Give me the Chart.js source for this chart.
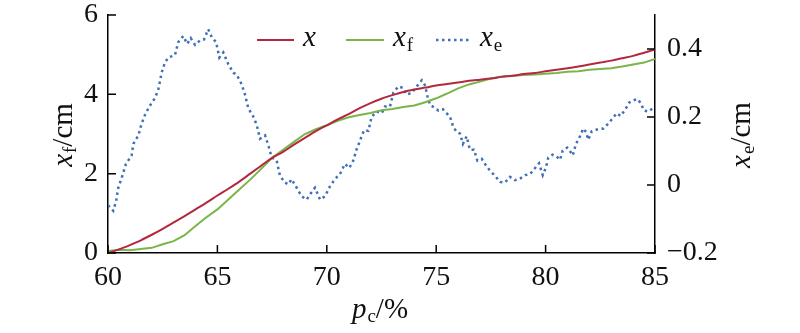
<!DOCTYPE html>
<html>
<head>
<meta charset="utf-8">
<script src="https://cdn.jsdelivr.net/npm/chart.js@4.4.1/dist/chart.umd.min.js"></script>
<style>
  body { margin: 0; background: #fff; }
  #wrap { width: 800px; height: 333px; }
</style>
</head>
<body>
<div id="wrap"><canvas id="chart"></canvas></div>
<script>
// x (red) and x_f (green), left axis (cm)
const pcLines = [60, 60.5, 61, 61.5, 62, 62.5, 63, 63.5, 64, 64.5, 65, 65.5, 66, 66.5, 67, 67.5, 68, 68.5, 69, 69.5, 70, 70.5, 71, 71.5, 72, 72.5, 73, 73.5, 74, 74.5, 75, 75.5, 76, 76.5, 77, 77.5, 78, 78.5, 79, 79.5, 80, 80.5, 81, 81.5, 82, 82.5, 83, 83.5, 84, 84.5, 85];
const xValues = [0, 0.09, 0.2, 0.32, 0.46, 0.61, 0.77, 0.93, 1.1, 1.27, 1.45, 1.62, 1.8, 2.0, 2.2, 2.4, 2.55, 2.73, 2.9, 3.07, 3.22, 3.37, 3.5, 3.65, 3.78, 3.89, 3.98, 4.06, 4.12, 4.17, 4.22, 4.26, 4.3, 4.34, 4.37, 4.4, 4.44, 4.47, 4.51, 4.54, 4.58, 4.62, 4.66, 4.7, 4.75, 4.8, 4.85, 4.91, 4.97, 5.05, 5.13];
const xfValues = [0.05, 0.08, 0.07, 0.1, 0.13, 0.22, 0.3, 0.45, 0.68, 0.9, 1.1, 1.35, 1.6, 1.85, 2.12, 2.4, 2.6, 2.8, 3.0, 3.12, 3.22, 3.33, 3.42, 3.48, 3.53, 3.6, 3.63, 3.68, 3.72, 3.8, 3.9, 4.02, 4.15, 4.25, 4.32, 4.4, 4.45, 4.47, 4.49, 4.5, 4.52, 4.54, 4.57, 4.58, 4.62, 4.64, 4.66, 4.7, 4.75, 4.8, 4.89];

// x_e (blue dotted), right axis (cm)
const pcXe = [60, 60.24, 60.37, 60.47, 60.63, 60.82, 61.08, 61.16, 61.39, 61.54, 61.69, 61.89, 62.15, 62.3, 62.45, 62.6, 62.76, 63.06, 63.21, 63.44, 63.62, 63.78, 63.98, 64.2, 64.39, 64.58, 64.74, 64.94, 65.09, 65.27, 65.5, 65.73, 65.88, 66.11, 66.26, 66.41, 66.64, 66.8, 66.95, 67.18, 67.33, 67.48, 67.71, 67.86, 68.09, 68.24, 68.39, 68.62, 68.85, 69.08, 69.23, 69.46, 69.69, 69.92, 70.15, 70.37, 70.6, 70.83, 71.03, 71.21, 71.37, 71.52, 71.7, 71.9, 72.05, 72.28, 72.51, 72.66, 72.89, 73.04, 73.27, 73.47, 73.65, 73.88, 74.11, 74.34, 74.49, 74.6, 74.72, 74.95, 75.1, 75.3, 75.48, 75.63, 75.78, 75.94, 76.09, 76.22, 76.39, 76.54, 76.73, 76.88, 77.08, 77.28, 77.46, 77.69, 77.92, 78.14, 78.37, 78.6, 78.83, 79.06, 79.29, 79.52, 79.7, 79.87, 80.02, 80.12, 80.32, 80.5, 80.66, 80.78, 80.99, 81.11, 81.24, 81.39, 81.57, 81.72, 81.85, 81.95, 82.11, 82.34, 82.64, 82.87, 83.1, 83.25, 83.43, 83.63, 83.83, 84.01, 84.19, 84.35, 84.5, 84.7, 84.95];
const xeValues = [-0.06, -0.076, -0.048, -0.008, 0.022, 0.062, 0.087, 0.121, 0.146, 0.181, 0.206, 0.231, 0.256, 0.281, 0.33, 0.36, 0.375, 0.382, 0.42, 0.438, 0.415, 0.432, 0.412, 0.425, 0.428, 0.458, 0.435, 0.42, 0.375, 0.39, 0.355, 0.33, 0.325, 0.296, 0.266, 0.226, 0.201, 0.176, 0.136, 0.146, 0.116, 0.081, 0.072, 0.027, 0.007, 0.002, 0.017, -0.008, -0.033, -0.043, -0.028, -0.008, -0.043, -0.033, -0.003, 0.017, 0.032, 0.062, 0.05, 0.072, 0.106, 0.131, 0.161, 0.159, 0.201, 0.216, 0.211, 0.231, 0.231, 0.271, 0.29, 0.286, 0.266, 0.271, 0.29, 0.308, 0.293, 0.261, 0.236, 0.226, 0.219, 0.223, 0.211, 0.201, 0.171, 0.156, 0.151, 0.121, 0.143, 0.104, 0.104, 0.072, 0.077, 0.057, 0.042, 0.027, 0.009, 0.007, 0.024, 0.014, 0.019, 0.029, 0.032, 0.05, 0.064, 0.029, 0.052, 0.08, 0.089, 0.084, 0.074, 0.101, 0.11, 0.1, 0.087, 0.121, 0.143, 0.166, 0.156, 0.133, 0.158, 0.163, 0.166, 0.181, 0.199, 0.211, 0.203, 0.221, 0.243, 0.249, 0.253, 0.241, 0.219, 0.216, 0.228];

const xTicks = [60, 65, 70, 75, 80, 85];
const leftTicks = [0, 2, 4, 6];
const rightTicks = [-0.2, -0.1, 0, 0.1, 0.2, 0.3, 0.4, 0.5];

const RED = '#b3283f';
const GREEN = '#79b548';
const BLUE = '#3f6fb5';
const SERIF = '"Liberation Serif", "Times New Roman", serif';

function pts(xs, ys) {
  return xs.map((x, i) => ({x: x, y: ys[i]}));
}

// draws text pieces one after another, centred on (cx, cy)
function richText(ctx, parts, cx, cy) {
  let w = 0;
  parts.forEach(p => { ctx.font = p.font; w += ctx.measureText(p.text).width + (p.gap || 0); });
  let x = cx - w / 2;
  ctx.textBaseline = 'middle';
  ctx.textAlign = 'left';
  parts.forEach(p => {
    ctx.font = p.font;
    ctx.fillText(p.text, x, cy + (p.dy || 0));
    x += ctx.measureText(p.text).width + (p.gap || 0);
  });
}

const it = 'italic 29px ' + SERIF;
const rm = '29px ' + SERIF;
const sub = '19px ' + SERIF;

const extras = {
  id: 'extras',
  afterDraw(chart) {
    const ctx = chart.ctx;
    const a = chart.chartArea;
    const sx = chart.scales.x, yl = chart.scales.y, yr = chart.scales.y1;
    ctx.save();
    ctx.strokeStyle = '#000';
    ctx.lineWidth = 1.5;
    ctx.beginPath();
    sx.ticks.forEach(t => {
      const px = sx.getPixelForValue(t.value);
      ctx.moveTo(px, a.bottom); ctx.lineTo(px, a.bottom - 8);
    });
    yl.ticks.forEach(t => {
      const py = yl.getPixelForValue(t.value);
      ctx.moveTo(a.left, py); ctx.lineTo(a.left + 8, py);
    });
    yr.ticks.forEach(t => {
      const py = yr.getPixelForValue(t.value);
      ctx.moveTo(a.right, py); ctx.lineTo(a.right - 8, py);
    });
    ctx.stroke();

    ctx.fillStyle = '#111';
    // axis titles
    richText(ctx, [{text: 'p', font: it, gap: 1}, {text: 'c', font: sub, dy: 7}, {text: '/%', font: rm}], 380, 310);
    ctx.save();
    ctx.translate(64, 135);
    ctx.rotate(-Math.PI / 2);
    richText(ctx, [{text: 'x', font: it, gap: 1}, {text: 'f', font: sub, dy: 7}, {text: '/cm', font: rm}], 0, 0);
    ctx.restore();
    ctx.save();
    ctx.translate(742, 135);
    ctx.rotate(-Math.PI / 2);
    richText(ctx, [{text: 'x', font: it, gap: 1}, {text: 'e', font: sub, dy: 7}, {text: '/cm', font: rm}], 0, 0);
    ctx.restore();

    // legend
    const items = [
      {ds: 0, x0: 257, x1: 294, lx: 303, sub: ''},
      {ds: 1, x0: 346, x1: 384, lx: 393, sub: 'f'},
      {ds: 2, x0: 436, x1: 470, lx: 480, sub: 'e'}
    ];
    items.forEach(item => {
      const d = chart.data.datasets[item.ds];
      ctx.strokeStyle = d.borderColor;
      ctx.lineWidth = d.borderWidth;
      ctx.setLineDash(d.borderDash || []);
      ctx.beginPath();
      ctx.moveTo(item.x0, 40); ctx.lineTo(item.x1, 40);
      ctx.stroke();
      ctx.setLineDash([]);
      ctx.textBaseline = 'middle';
      ctx.textAlign = 'left';
      ctx.font = it;
      ctx.fillText('x', item.lx, 38);
      if (item.sub) {
        const w = ctx.measureText('x').width;
        ctx.font = sub;
        ctx.fillText(item.sub, item.lx + w + 1, 46);
      }
    });
    ctx.restore();
  }
};

Chart.defaults.font.family = SERIF;
Chart.defaults.color = '#111';

function noPad(s) {
  s.paddingTop = 0;
  s.paddingBottom = 0;
}

new Chart(document.getElementById('chart').getContext('2d'), {
  type: 'line',
  data: {
    datasets: [
      {label: 'x', data: pts(pcLines, xValues), yAxisID: 'y', borderColor: RED, borderWidth: 2, pointRadius: 0, cubicInterpolationMode: 'monotone'},
      {label: 'xf', data: pts(pcLines, xfValues), yAxisID: 'y', borderColor: GREEN, borderWidth: 2, pointRadius: 0},
      {label: 'xe', data: pts(pcXe, xeValues), yAxisID: 'y1', borderColor: BLUE, borderWidth: 2.5, borderDash: [2.5, 3.5], pointRadius: 0}
    ]
  },
  options: {
    responsive: true,
    maintainAspectRatio: false,
    animation: false,
    layout: {padding: {top: 15, left: 0, right: 0, bottom: 0}},
    plugins: {legend: {display: false}, tooltip: {enabled: false}},
    scales: {
      x: {
        type: 'linear', min: 60, max: 85,
        afterBuildTicks: s => { s.ticks = xTicks.map(v => ({value: v})); },
        afterFit: s => { s.height = 80; s.paddingLeft = 0; s.paddingRight = 0; },
        grid: {display: false, drawTicks: false},
        border: {display: true, color: '#000', width: 1.5},
        ticks: {font: {size: 28}, padding: 8, maxRotation: 0}
      },
      y: {
        position: 'left', min: 0, max: 6,
        afterBuildTicks: s => { s.ticks = leftTicks.map(v => ({value: v})); },
        afterFit: s => { s.width = 108; noPad(s); },
        grid: {display: false, drawTicks: false},
        border: {display: true, color: '#000', width: 1.5},
        ticks: {font: {size: 28}, padding: 10}
      },
      y1: {
        position: 'right', min: -0.2, max: 0.5,
        afterBuildTicks: s => { s.ticks = rightTicks.map(v => ({value: v})); },
        afterFit: s => { s.width = 145; noPad(s); },
        grid: {display: false, drawTicks: false},
        border: {display: true, color: '#000', width: 1.5},
        ticks: {
          font: {size: 28}, padding: 12,
          callback: v => {
            const k = Math.round(v * 10);
            if (k % 2 !== 0) return '';
            return (k / 10).toString().replace('-', '\u2212');
          }
        }
      }
    }
  },
  plugins: [extras]
});
</script>
</body>
</html>
